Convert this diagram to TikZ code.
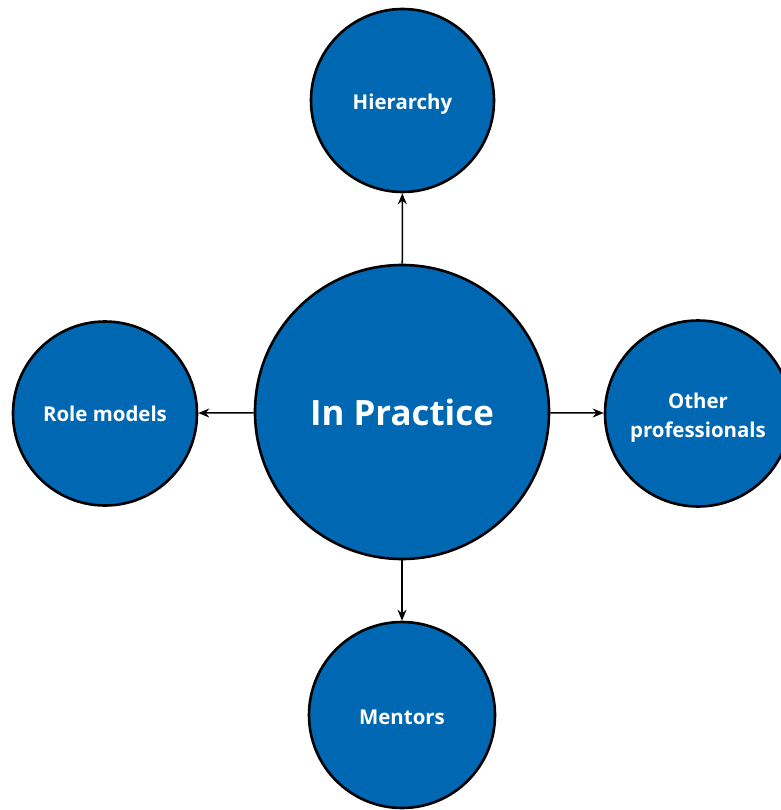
\documentclass[tikz,border=0pt]{standalone}
\usepackage{fontspec}
\setmainfont{Open Sans}
\usetikzlibrary{arrows.meta}
\definecolor{nodeblue}{RGB}{0,103,178}
\begin{document}
\begin{tikzpicture}[x=1bp,y=-1bp,
  bubble/.style={circle, draw=black, line width=2.6bp, fill=nodeblue, text=white,
    font=\bfseries\fontsize{20.5}{29}\selectfont, align=center, inner sep=0pt},
  lowtext/.style={text height=18bp, text depth=0bp},
  link/.style={line width=1.5bp, -{Stealth[length=11bp,width=9bp]}}]
\useasboundingbox (0,0) rectangle (781,810);
\clip (0,0) rectangle (781,810);
\node[bubble, minimum size=294bp, font=\bfseries\fontsize{35}{40}\selectfont] (c) at (402,412) {In Practice};
\node[bubble, lowtext, minimum size=183bp] (h) at (402.5,100.5) {Hierarchy};
\node[bubble, minimum size=184bp, text height=16bp, text depth=0bp] (r) at (105,413.5) {Role models};
\node[bubble, minimum size=186bp, text height=47bp, text depth=0bp] (o) at (698,413.5) {Other\\professionals};
\node[bubble, lowtext, minimum size=186bp] (m) at (402,715) {Mentors};
\draw[link] (c) -- (h);
\draw[link] (c) -- (r);
\draw[link] (c) -- (o);
\draw[link] (c) -- (m);
\end{tikzpicture}
\end{document}
